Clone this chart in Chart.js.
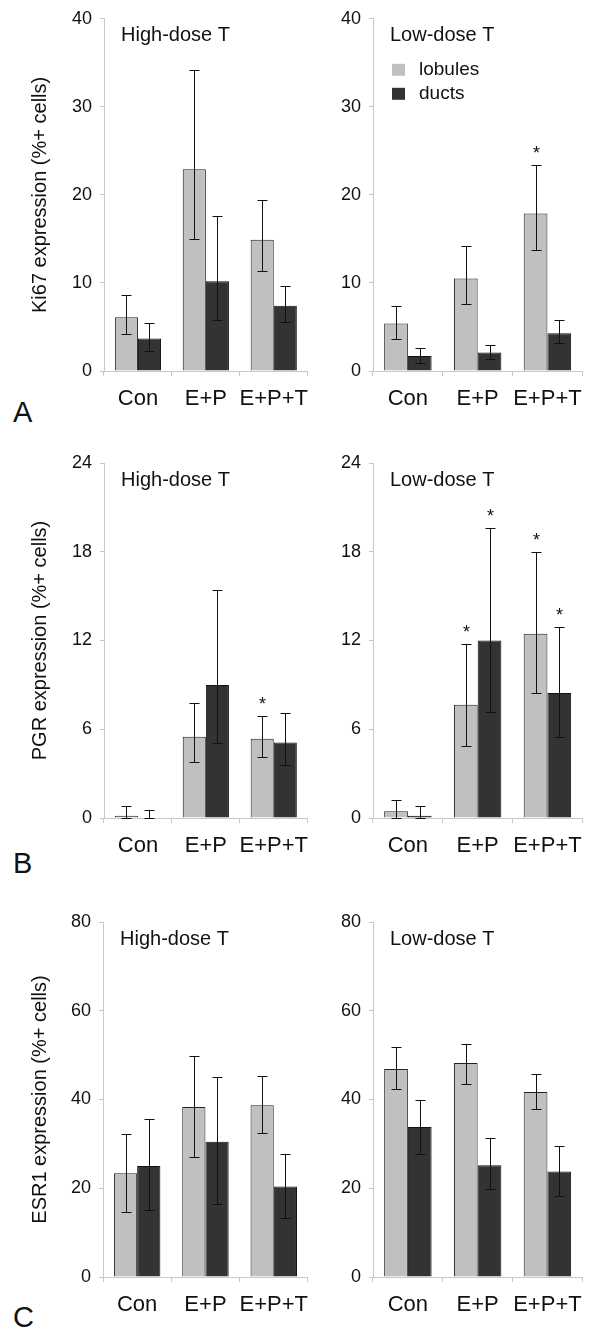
<!DOCTYPE html>
<html>
<head>
<meta charset="utf-8">
<script src="https://cdn.jsdelivr.net/npm/chart.js@4.4.1/dist/chart.umd.min.js"></script>
<style>
  html, body { margin: 0; padding: 0; background: #fff; }
  #page { position: relative; width: 592px; height: 1332px; overflow: hidden; }
  .pane { position: absolute; }
  .letter { position: absolute; left: 13px; font: 29px "Liberation Sans", Arial, sans-serif; color: #111; line-height: 1; }
</style>
</head>
<body>
<div id="page">
  <div class="letter" style="top:398px">A</div>
  <div class="letter" style="top:849px">B</div>
  <div class="letter" style="top:1303px">C</div>
</div>
<script>
const FONT = '"Liberation Sans", Arial, sans-serif';

const groups = ['Con', 'E+P', 'E+P+T'];
const seriesNames = ['lobules', 'ducts'];
const lobuleColor = '#c0c0c0';
const ductColor = '#333333';

// Ki67, % positive cells, mean with [low, high] error bars
const ki67HighLob = [6.1, 22.9, 14.9];
const ki67HighLobErr = [[4.2, 8.6], [15.0, 34.2], [11.4, 19.4]];
const ki67HighDuct = [3.7, 10.2, 7.4];
const ki67HighDuctErr = [[2.3, 5.5], [5.8, 17.6], [5.6, 9.7]];
const ki67LowLob = [5.4, 10.5, 17.9];
const ki67LowLobErr = [[3.6, 7.4], [7.6, 14.2], [13.7, 23.4]];
const ki67LowDuct = [1.7, 2.1, 4.3];
const ki67LowDuctErr = [[0.9, 2.6], [1.4, 3.0], [3.2, 5.8]];

// PGR
const pgrHighLob = [0.15, 5.5, 5.35];
const pgrHighLobErr = [[0, 0.78], [3.8, 7.8], [4.1, 6.9]];
const pgrHighDuct = [0, 9.0, 5.1];
const pgrHighDuctErr = [[0, 0.56], [5.1, 15.4], [3.55, 7.1]];
const pgrLowLob = [0.45, 7.65, 12.45];
const pgrLowLobErr = [[0, 1.2], [4.9, 11.75], [8.45, 18.0]];
const pgrLowDuct = [0.15, 12.0, 8.45];
const pgrLowDuctErr = [[0, 0.8], [7.15, 19.6], [5.45, 12.9]];

// ESR1
const esrHighLob = [23.4, 38.3, 38.7];
const esrHighLobErr = [[14.6, 32.3], [27.1, 49.7], [32.5, 45.3]];
const esrHighDuct = [25.0, 30.5, 20.4];
const esrHighDuctErr = [[15.0, 35.5], [16.5, 45.1], [13.4, 27.7]];
const esrLowLob = [46.9, 48.2, 41.7];
const esrLowLobErr = [[42.3, 51.8], [43.6, 52.4], [37.8, 45.7]];
const esrLowDuct = [33.8, 25.2, 23.8];
const esrLowDuctErr = [[27.7, 39.9], [19.8, 31.4], [18.3, 29.6]];

// significance stars (1 = asterisk over bar)
const ki67LowLobStars = [0, 0, 1];
const pgrHighLobStars = [0, 0, 1];
const pgrLowLobStars = [0, 1, 1];
const pgrLowDuctStars = [0, 1, 1];
const none = [0, 0, 0];

const yMaxes = [40, 24, 80];
const ySteps = [10, 6, 20];
const yTitles = ['Ki67 expression (%+ cells)', 'PGR expression (%+ cells)', 'ESR1 expression (%+ cells)'];
const doseTitles = ['High-dose T', 'Low-dose T'];

// page layout
const rows = [
  { top: 0, h: 430, plotTop: 16, plotBot: 371, axisL: 104 },
  { top: 430, h: 450, plotTop: 463, plotBot: 818, axisL: 104 },
  { top: 880, h: 452, plotTop: 922, plotBot: 1277, axisL: 103 }
];
const cols = [{ x: 0, w: 318 }, { x: 318, w: 274 }];
const X_AXIS_H = 50;

const extras = {
  id: 'extras',
  afterDatasetsDraw(chart, args, opts) {
    const ctx = chart.ctx;
    const area = chart.chartArea;
    const y = chart.scales.y;
    ctx.save();
    // error bars and stars
    chart.data.datasets.forEach((ds, i) => {
      const meta = chart.getDatasetMeta(i);
      meta.data.forEach((bar, j) => {
        const [lo, hi] = ds.errs[j];
        const yLo = Math.round(y.getPixelForValue(lo)) + 0.5;
        const yHi = Math.round(y.getPixelForValue(hi)) + 0.5;
        const x = Math.round(bar.x) + 0.5;
        ctx.strokeStyle = '#111';
        ctx.lineWidth = 1;
        ctx.beginPath();
        ctx.moveTo(x, yLo); ctx.lineTo(x, yHi);
        ctx.moveTo(x - 5, yHi); ctx.lineTo(x + 5, yHi);
        ctx.moveTo(x - 5, yLo); ctx.lineTo(x + 5, yLo);
        ctx.stroke();
        if (ds.stars[j]) {
          ctx.fillStyle = '#111';
          ctx.font = '18px ' + FONT;
          ctx.textAlign = 'center';
          ctx.textBaseline = 'middle';
          ctx.fillText('*', x, yHi - 11);
        }
      });
    });
    // panel title
    ctx.fillStyle = '#111';
    ctx.font = '20px ' + FONT;
    ctx.textAlign = 'left';
    ctx.textBaseline = 'middle';
    ctx.fillText(opts.title, area.left + 17, area.top + 17);
    // legend inside the plot
    if (opts.legend) {
      chart.data.datasets.forEach((ds, i) => {
        const ly = area.top + 51 + i * 24;
        ctx.fillStyle = ds.backgroundColor;
        ctx.fillRect(area.left + 19, ly - 6, 13, 12);
        ctx.fillStyle = '#111';
        ctx.font = '19px ' + FONT;
        ctx.fillText(ds.label, area.left + 46, ly);
      });
    }
    ctx.restore();
  }
};

function makePanel(r, c, lob, lobErr, lobStars, duct, ductErr, ductStars) {
  const row = rows[r], col = cols[c];
  const canvas = document.createElement('canvas');
  canvas.width = col.w;
  canvas.height = row.h;
  canvas.className = 'pane';
  canvas.style.left = col.x + 'px';
  canvas.style.top = row.top + 'px';
  document.getElementById('page').appendChild(canvas);
  const axisW = c === 0 ? row.axisL : 373 - col.x;

  new Chart(canvas.getContext('2d'), {
    type: 'bar',
    data: {
      labels: groups,
      datasets: [
        { label: seriesNames[0], data: lob, errs: lobErr, stars: lobStars,
          backgroundColor: lobuleColor, borderColor: '#222', borderWidth: 1 },
        { label: seriesNames[1], data: duct, errs: ductErr, stars: ductStars,
          backgroundColor: ductColor, borderColor: '#111', borderWidth: 1 }
      ]
    },
    options: {
      responsive: false,
      animation: false,
      devicePixelRatio: 1,
      layout: {
        padding: {
          top: row.plotTop - row.top,
          bottom: row.top + row.h - row.plotBot - X_AXIS_H,
          left: 0,
          right: c === 0 ? 0 : 2
        }
      },
      categoryPercentage: 0.68,
      barPercentage: 1.0,
      scales: {
        x: {
          afterFit: (s) => { s.height = X_AXIS_H; },
          grid: { drawOnChartArea: false, drawTicks: true, tickLength: 5, color: '#c8c8c8' },
          border: { color: '#c8c8c8' },
          ticks: { font: { family: FONT, size: 22 }, color: '#111', padding: 10, maxRotation: 0, autoSkip: false }
        },
        y: {
          min: 0,
          max: yMaxes[r],
          afterFit: (s) => { s.width = axisW; },
          grid: { drawOnChartArea: false, drawTicks: true, tickLength: 4, color: '#c8c8c8' },
          border: { color: '#c8c8c8' },
          ticks: { stepSize: ySteps[r], font: { family: FONT, size: 18 }, color: '#111', padding: 8 },
          title: {
            display: c === 0,
            text: yTitles[r],
            font: { family: FONT, size: 20 },
            color: '#111',
            padding: { top: 28, bottom: 0 }
          }
        }
      },
      plugins: {
        legend: { display: false },
        tooltip: { enabled: false },
        extras: { title: doseTitles[c], legend: r === 0 && c === 1 }
      }
    },
    plugins: [extras]
  });
}

makePanel(0, 0, ki67HighLob, ki67HighLobErr, none, ki67HighDuct, ki67HighDuctErr, none);
makePanel(0, 1, ki67LowLob, ki67LowLobErr, ki67LowLobStars, ki67LowDuct, ki67LowDuctErr, none);
makePanel(1, 0, pgrHighLob, pgrHighLobErr, pgrHighLobStars, pgrHighDuct, pgrHighDuctErr, none);
makePanel(1, 1, pgrLowLob, pgrLowLobErr, pgrLowLobStars, pgrLowDuct, pgrLowDuctErr, pgrLowDuctStars);
makePanel(2, 0, esrHighLob, esrHighLobErr, none, esrHighDuct, esrHighDuctErr, none);
makePanel(2, 1, esrLowLob, esrLowLobErr, none, esrLowDuct, esrLowDuctErr, none);
</script>
</body>
</html>
